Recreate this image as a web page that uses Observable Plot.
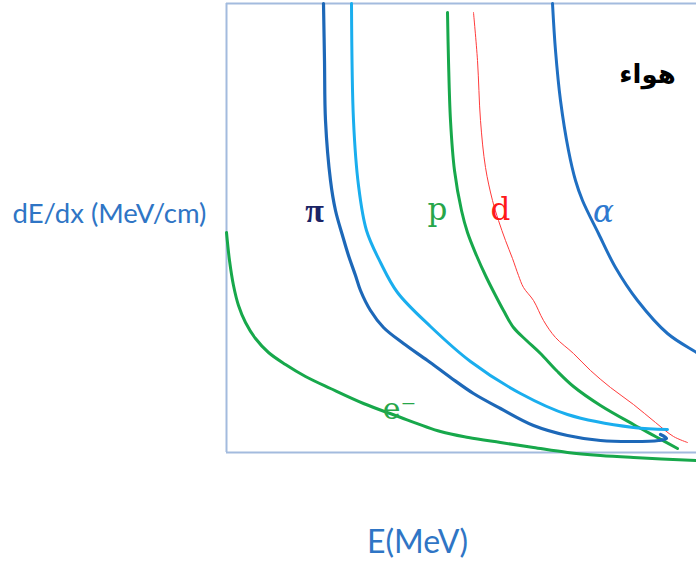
<!DOCTYPE html>
<html>
<head>
<meta charset="utf-8">
<script src="https://cdn.jsdelivr.net/npm/d3@7"></script>
<script src="https://cdn.jsdelivr.net/npm/@observablehq/plot@0.6"></script>
<style>
  html, body { margin: 0; padding: 0; background: #fff; }
  #chart svg { display: block; }
</style>
</head>
<body>
<div id="chart"></div>
<script>
// Energy-loss curves dE/dx vs E (arbitrary units)
const piE    = [9.7, 9.8, 9.9, 10.4, 10.9, 11.6, 12.2, 12.9, 13.4, 14.4, 15.7, 17.7, 20.1, 22.4, 24.7, 27.4, 30.7, 34.1, 37.4, 40.7, 43.2, 44.0, 43.4];
const piDEdx = [44.9, 39.2, 33.2, 27.2, 24.2, 21.7, 19.7, 17.7, 16.2, 14.2, 12.5, 10.9, 9.2, 7.5, 5.9, 4.4, 2.7, 1.7, 1.2, 1.1, 1.2, 1.4, 1.8];

const muE    = [12.5, 12.7, 13.2, 14.0, 15.4, 17.1, 20.4, 24.4, 29.4, 34.1, 40.7, 44.1];
const muDEdx = [44.9, 33.2, 26.7, 22.2, 19.0, 16.0, 12.6, 9.1, 5.9, 3.8, 2.5, 2.3];

const pE     = [22.1, 22.2, 22.4, 22.8, 23.5, 24.1, 25.0, 25.9, 26.8, 27.7, 28.7, 30.0, 31.4, 33.0, 34.7, 37.4, 40.7, 42.9, 45.1];
const pDEdx  = [44.0, 39.2, 33.2, 28.2, 24.2, 22.0, 19.7, 17.7, 15.9, 14.2, 12.5, 11.2, 9.9, 8.2, 6.6, 4.7, 2.8, 1.6, 0.4];

const dE     = [24.7, 25.1, 25.4, 25.9, 26.6, 27.2, 27.9, 28.6, 29.2, 29.7, 30.7, 31.7, 32.9, 34.7, 36.4, 38.4, 40.7, 42.9, 44.7, 46.1];
const dDEdx  = [44.0, 39.2, 33.2, 28.5, 25.2, 23.2, 21.2, 19.4, 17.7, 16.5, 15.2, 13.2, 11.5, 9.9, 8.2, 6.5, 4.8, 3.0, 1.6, 1.0];

const aE     = [32.6, 32.9, 33.4, 34.2, 34.9, 35.6, 37.2, 38.9, 41.1, 44.1, 47.0, 48.6];
const aDEdx  = [44.9, 40.2, 35.2, 30.2, 27.2, 25.2, 21.9, 18.5, 15.2, 11.9, 10.0, 9.0];

const eE     = [0, 0.3, 0.7, 1.2, 1.9, 2.9, 4.2, 5.9, 7.9, 10.4, 13.7, 16.9, 21.4, 24.2, 27.4, 30.7, 34.1, 37.4, 40.7, 47.0];
const eDEdx  = [22.0, 19.2, 16.7, 14.7, 13.0, 11.4, 10.0, 8.8, 7.6, 6.4, 4.9, 3.7, 2.1, 1.5, 1.0, 0.5, 0, -0.3, -0.5, -0.8];

// Labels
const particleLabels = ["π", "p", "d", "α"];
const particleLabelE = [8.8, 21.1, 27.4, 37.7];
const particleLabelDEdx = [24.1, 24.2, 24.2, 24.0];
const electronLabel = "e⁻";
const electronLabelE = 17.3;
const electronLabelDEdx = 4.3;
const mediumLabel = "هواء";
const mediumLabelE = 42.1;
const mediumLabelDEdx = 37.8;
const xLabel = "E(MeV)";
const yLabel = "dE/dx (MeV/cm)";

const zip = (xs, ys) => xs.map((x, i) => ({E: x, dEdx: ys[i]}));

const series = [
  {data: zip(eE, eDEdx),   stroke: "#17a84b", w: 3, curve: "catmull-rom"},
  {data: zip(aE, aDEdx),   stroke: "#1f6fc2", w: 3, curve: "catmull-rom"},
  {data: zip(dE, dDEdx),   stroke: "#ff3b3b", w: 1, curve: "catmull-rom"},
  {data: zip(pE, pDEdx),   stroke: "#17a84b", w: 3, curve: "catmull-rom"},
  {data: zip(muE, muDEdx), stroke: "#1aaeee", w: 3, curve: "catmull-rom"},
  {data: zip(piE, piDEdx), stroke: "#1d68b8", w: 3.2, curve: "catmull-rom"}
];

const labelColors = ["#1b2466", "#27a64a", "#ff1a1a", "#2f7ad0"];
const labelStyles = ["normal", "normal", "normal", "italic"];
const labelWeights = ["bold", "normal", "normal", "normal"];
const labelFonts = ["Liberation Serif", "DejaVu Serif", "DejaVu Serif", "DejaVu Serif"];
const labelSizes = [34, 31, 31, 31];

const frameColor = "#a3bbde";
const axisColor = "#2f75c5";

const marks = [
  Plot.ruleY([44.9], {stroke: frameColor, strokeWidth: 2}),
  Plot.ruleY([0], {stroke: frameColor, strokeWidth: 2}),
  Plot.ruleX([0], {stroke: frameColor, strokeWidth: 2}),
  ...series.map(s => Plot.line(s.data, {x: "E", y: "dEdx", stroke: s.stroke, strokeWidth: s.w, curve: s.curve, strokeLinecap: "round", strokeLinejoin: "round"})),
  ...particleLabels.map((t, i) => Plot.text([t], {
    x: [particleLabelE[i]], y: [particleLabelDEdx[i]], text: d => d,
    fill: labelColors[i], fontSize: labelSizes[i], fontFamily: labelFonts[i],
    fontStyle: labelStyles[i], fontWeight: labelWeights[i]
  })),
  Plot.text([electronLabel], {x: [electronLabelE], y: [electronLabelDEdx], text: d => d,
    fill: "#27a64a", fontSize: 30, fontFamily: "DejaVu Serif"}),
  Plot.text([mediumLabel], {x: [mediumLabelE], y: [mediumLabelDEdx], text: d => d,
    fill: "#000", fontSize: 26, fontWeight: "bold", fontFamily: "DejaVu Sans"}),
  Plot.text([yLabel], {frameAnchor: "left", textAnchor: "start", dx: -214, dy: -14,
    fill: axisColor, fontSize: 27.5, fontFamily: "Lato"}),
  Plot.text([xLabel], {frameAnchor: "bottom", dx: -44, dy: 100,
    fill: axisColor, fontSize: 32, fontFamily: "Lato"})
];

const chart = Plot.plot({
  width: 696,
  height: 574,
  marginLeft: 226,
  marginRight: 0,
  marginTop: 3,
  marginBottom: 122,
  x: {domain: [0, 47], axis: null},
  y: {domain: [0, 44.9], axis: null},
  style: {background: "#fff", overflow: "hidden"},
  marks
});
document.getElementById("chart").appendChild(chart);
</script>
</body>
</html>
